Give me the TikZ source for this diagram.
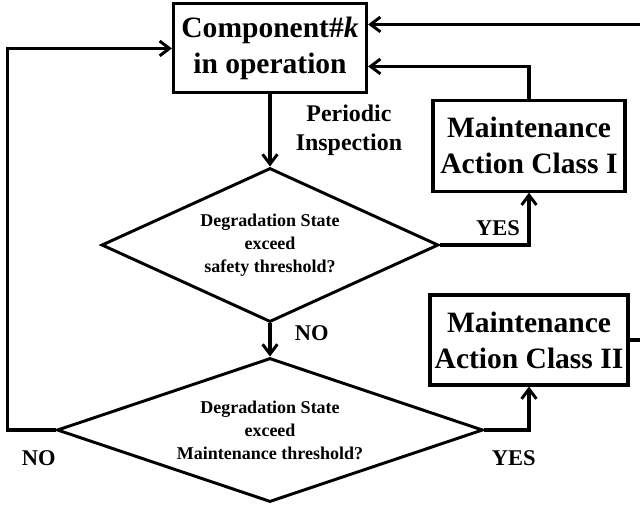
\documentclass[tikz,border=0pt]{standalone}
\usepackage{fontspec}
\setmainfont{Liberation Serif}
\usetikzlibrary{shapes,arrows,positioning,calc,arrows.meta}

\begin{document}
\begin{tikzpicture}[
    box/.style={draw, line width=2.2pt, minimum width=4.8cm, minimum height=2.25cm, align=center, font=\bfseries\fontsize{21}{25.5}\selectfont},
    decision/.style={diamond, draw, line width=2.1pt, inner sep=0pt, align=center, font=\bfseries\fontsize{12.8}{16.4}\selectfont},
    lbl/.style={inner sep=0pt, align=center, font=\bfseries\fontsize{16}{20.6}\selectfont},
    flow/.style={line width=2.6pt, -{Straight Barb[length=7pt,width=10.5pt,line width=2.1pt]}}
]
    \useasboundingbox (0, 0) rectangle (16, -12.6);
    \node [box, minimum width=4.825cm, minimum height=2.225cm] (comp) at (6.75, -1.21) {Component\#\textit{k}\\in operation};
    \node [box, minimum height=2.275cm] (maintA) at (13.225, -3.64) {Maintenance\\Action Class I};
    \node [box] (maintB) at (13.225, -8.5) {Maintenance\\Action Class II};
    \node [decision, aspect=2.19, minimum width=8.425cm, minimum height=3.85cm] (safe) at (6.75, -6.125) {Degradation State\\exceed\\safety threshold?};
    \node [decision, aspect=2.96, minimum width=10.65cm, minimum height=3.6cm] (maint) at (6.75, -10.75) {Degradation State\\exceed\\Maintenance threshold?};
    \coordinate (topin) at (16, -0.61);
    \coordinate (rightout) at (16, -8.5);

    \draw [flow] (comp) -- (safe) node [midway, right=0.6cm, lbl, font=\bfseries\fontsize{17}{20.6}\selectfont] {Periodic\\Inspection};
    \draw [flow] (safe) -- (maint) node [pos=0.3, right=0.575cm, lbl] {NO};
    \draw [flow] (safe.east) -| (maintA.south) node [pos=0.326, above=0.19cm, lbl] {YES};
    \draw [flow] (maint.east) -| (maintB.south) node [pos=0.33, below=0.46cm, lbl] {YES};
    \draw [flow] (maint.west) -- ++(-1.2, 0) node [pos=0.35, below=0.46cm, lbl] {NO} |- (comp.west);
    \draw [flow] (maintA.north) |- ([yshift=-0.45cm]comp.east);
    \draw [flow] (topin) -- ([yshift=0.6cm]comp.east);
    \draw [line width=2.6pt] (maintB.east) -- (rightout); % off to the right
\end{tikzpicture}
\end{document}
